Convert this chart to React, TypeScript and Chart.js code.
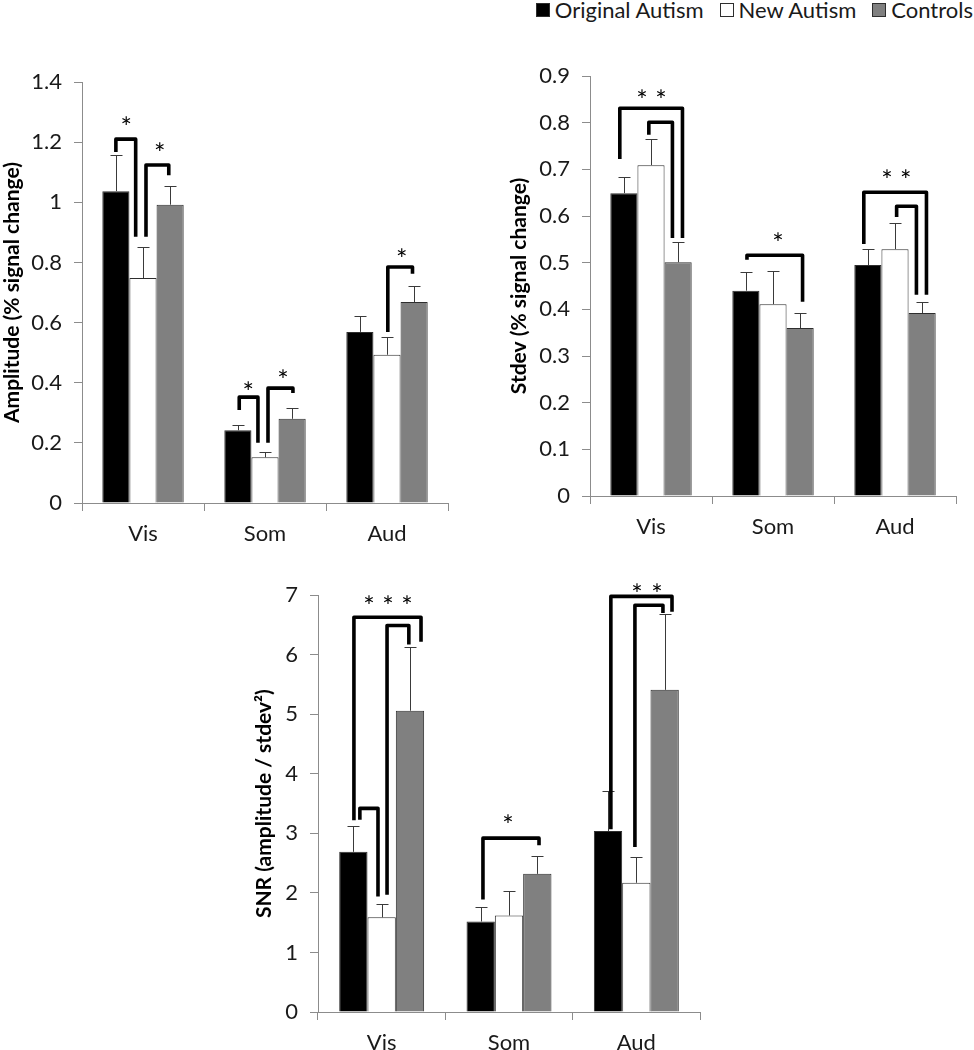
import React, { useEffect, useRef } from "react";
import { Chart, registerables } from "chart.js";

Chart.register(...registerables);

// ---------- data ----------
const CATEGORIES = ["Vis", "Som", "Aud"];
const SERIES_NAMES = ["Original Autism", "New Autism", "Controls"];

// Amplitude (% signal change)
const AMP_ORIGINAL = [1.037, 0.242, 0.569];
const AMP_NEW = [0.748, 0.152, 0.493];
const AMP_CONTROLS = [0.992, 0.28, 0.668];
const AMP_ERR_ORIGINAL = [0.12, 0.017, 0.053];
const AMP_ERR_NEW = [0.103, 0.018, 0.059];
const AMP_ERR_CONTROLS = [0.062, 0.036, 0.054];

// Stdev (% signal change)
const STD_ORIGINAL = [0.649, 0.44, 0.495];
const STD_NEW = [0.709, 0.411, 0.529];
const STD_CONTROLS = [0.501, 0.36, 0.392];
const STD_ERR_ORIGINAL = [0.035, 0.04, 0.034];
const STD_ERR_NEW = [0.056, 0.071, 0.056];
const STD_ERR_CONTROLS = [0.043, 0.032, 0.024];

// SNR (amplitude / stdev^2)
const SNR_ORIGINAL = [2.69, 1.52, 3.04];
const SNR_NEW = [1.59, 1.62, 2.17];
const SNR_CONTROLS = [5.06, 2.32, 5.41];
const SNR_ERR_ORIGINAL = [0.43, 0.24, 0.67];
const SNR_ERR_NEW = [0.23, 0.42, 0.43];
const SNR_ERR_CONTROLS = [1.07, 0.3, 1.27];

// significance brackets: [category, xStart (bar units from first bar), xEnd, yStart, yTop, yEnd]
const AMP_BRACKETS = [
  [0, 0, 0.73, 1.167, 1.21, 0.885],
  [0, 1.11, 1.95, 0.885, 1.124, 1.09],
  [1, 0.05, 0.74, 0.309, 0.352, 0.2],
  [1, 1.11, 2.03, 0.2, 0.382, 0.366],
  [2, 1.03, 1.94, 0.569, 0.785, 0.762],
];
// stars: [category, x (bar units), y]
const AMP_STARS = [
  [0, 0.38, 1.267],
  [0, 1.62, 1.18],
  [1, 0.38, 0.386],
  [1, 1.66, 0.426],
  [2, 1.54, 0.828],
];

const STD_BRACKETS = [
  [0, -0.15, 2.16, 0.722, 0.831, 0.553],
  [0, 0.92, 1.79, 0.774, 0.801, 0.553],
  [1, 0.04, 2.09, 0.506, 0.516, 0.416],
  [2, -0.15, 2.16, 0.54, 0.651, 0.431],
  [2, 1.06, 1.79, 0.598, 0.621, 0.431],
];
const STD_STARS = [
  [0, 0.67, 0.859],
  [0, 1.37, 0.859],
  [1, 1.18, 0.553],
  [2, 0.7, 0.688],
  [2, 1.4, 0.688],
];

const SNR_BRACKETS = [
  [0, 0.02, 2.39, 3.22, 6.63, 6.22],
  [0, 0.23, 0.87, 3.23, 3.42, 1.94],
  [0, 1.19, 1.96, 1.97, 6.49, 6.17],
  [1, 0.08, 2.06, 1.89, 2.92, 2.8],
  [2, 0.1, 2.26, 3.07, 6.98, 6.72],
  [2, 0.95, 1.94, 2.77, 6.83, 6.7],
];
const SNR_STARS = [
  [0, 0.55, 6.9],
  [0, 1.22, 6.9],
  [0, 1.89, 6.9],
  [1, 0.96, 3.23],
  [2, 1.02, 7.1],
  [2, 1.73, 7.1],
];

// ---------- styles ----------
const FONT = "Lato, 'Open Sans', sans-serif";
const SERIES_COLORS = ["#000000", "#ffffff", "#808080"];
const AXIS_COLOR = "#8c8c8c";
const TEXT_COLOR = "#1a1a1a";
const TICK_SIZE = 22;
const TITLE_SIZE = 21;
const STAR_SIZE = 27;

interface PanelSpec {
  values: number[][];
  errors: number[][];
  brackets: number[][];
  stars: number[][];
  yMax: number;
  yStep: number;
  title: string;
  titlePad: number;
  box: { left: number; top: number; width: number; height: number };
  area: { left: number; top: number; right: number; bottom: number };
}

const PANELS: PanelSpec[] = [
  {
    values: [AMP_ORIGINAL, AMP_NEW, AMP_CONTROLS],
    errors: [AMP_ERR_ORIGINAL, AMP_ERR_NEW, AMP_ERR_CONTROLS],
    brackets: AMP_BRACKETS,
    stars: AMP_STARS,
    yMax: 1.4,
    yStep: 0.2,
    title: "Amplitude (% signal change)",
    titlePad: 0,
    box: { left: 0, top: 50, width: 470, height: 510 },
    area: { left: 82, top: 32, right: 448, bottom: 453 },
  },
  {
    values: [STD_ORIGINAL, STD_NEW, STD_CONTROLS],
    errors: [STD_ERR_ORIGINAL, STD_ERR_NEW, STD_ERR_CONTROLS],
    brackets: STD_BRACKETS,
    stars: STD_STARS,
    yMax: 0.9,
    yStep: 0.1,
    title: "Stdev (% signal change)",
    titlePad: 7,
    box: { left: 500, top: 50, width: 474, height: 510 },
    area: { left: 90, top: 26, right: 456, bottom: 446 },
  },
  {
    values: [SNR_ORIGINAL, SNR_NEW, SNR_CONTROLS],
    errors: [SNR_ERR_ORIGINAL, SNR_ERR_NEW, SNR_ERR_CONTROLS],
    brackets: SNR_BRACKETS,
    stars: SNR_STARS,
    yMax: 7,
    yStep: 1,
    title: "SNR (amplitude / stdev\u00b2)",
    titlePad: 2,
    box: { left: 250, top: 570, width: 470, height: 480 },
    area: { left: 68, top: 20, right: 450, bottom: 442 },
  },
];

function makeAnnotPlugin(spec: PanelSpec) {
  return {
    id: "annot",
    afterDatasetsDraw(chart: any) {
      const ctx = chart.ctx;
      const ys = chart.scales.y;
      ctx.save();
      // error bars
      ctx.strokeStyle = "#3a3a3a";
      ctx.lineWidth = 1;
      spec.values.forEach((vals, i) => {
        const meta = chart.getDatasetMeta(i);
        vals.forEach((v, j) => {
          const bar = meta.data[j];
          const x = Math.round(bar.x) + 0.5;
          const yTop = Math.round(ys.getPixelForValue(v + spec.errors[i][j])) + 0.5;
          const yBase = ys.getPixelForValue(v);
          ctx.beginPath();
          ctx.moveTo(x, yBase);
          ctx.lineTo(x, yTop);
          ctx.moveTo(x - 6, yTop);
          ctx.lineTo(x + 6, yTop);
          ctx.stroke();
        });
      });
      const meta0 = chart.getDatasetMeta(0);
      const xAt = (cat: number, u: number) => {
        const b = meta0.data[cat];
        return b.x + u * b.width;
      };
      // brackets
      ctx.strokeStyle = "#000";
      ctx.lineWidth = 3.6;
      ctx.lineJoin = "round";
      ctx.lineCap = "butt";
      spec.brackets.forEach(([cat, u1, u2, yS, yT, yE]) => {
        const x1 = xAt(cat, u1);
        const x2 = xAt(cat, u2);
        ctx.beginPath();
        ctx.moveTo(x1, ys.getPixelForValue(yS));
        ctx.lineTo(x1, ys.getPixelForValue(yT));
        ctx.lineTo(x2, ys.getPixelForValue(yT));
        ctx.lineTo(x2, ys.getPixelForValue(yE));
        ctx.stroke();
      });
      // stars
      ctx.fillStyle = "#000";
      ctx.font = `${STAR_SIZE}px ${FONT}`;
      ctx.textAlign = "center";
      ctx.textBaseline = "alphabetic";
      spec.stars.forEach(([cat, u, y]) => {
        ctx.fillText("*", xAt(cat, u), ys.getPixelForValue(y) + STAR_SIZE * 0.55);
      });
      ctx.restore();
    },
  };
}

function fmt(v: number) {
  return String(parseFloat(Number(v).toFixed(2)));
}

function Panel({ spec }: { spec: PanelSpec }) {
  const ref = useRef<HTMLCanvasElement | null>(null);
  useEffect(() => {
    const canvas = ref.current;
    if (!canvas) return;
    const { box, area } = spec;
    const chart = new Chart(canvas, {
      type: "bar",
      data: {
        labels: CATEGORIES,
        datasets: spec.values.map((vals, i) => ({
          label: SERIES_NAMES[i],
          data: vals,
          backgroundColor: SERIES_COLORS[i],
          borderColor: "#2e2e2e",
          borderWidth: 1,
          categoryPercentage: 0.667,
          barPercentage: 1.0,
        })),
      },
      options: {
        responsive: false,
        animation: false,
        devicePixelRatio: 1,
        layout: {
          padding: { top: area.top, right: box.width - area.right, bottom: 0, left: 0 },
        },
        plugins: {
          legend: { display: false },
          tooltip: { enabled: false },
        },
        scales: {
          x: {
            offset: true,
            grid: {
              display: true,
              offset: true,
              drawOnChartArea: false,
              drawTicks: true,
              tickLength: 8,
              color: AXIS_COLOR,
            },
            border: { display: true, color: AXIS_COLOR, width: 1 },
            ticks: {
              font: { family: FONT, size: TICK_SIZE },
              color: TEXT_COLOR,
              padding: 10,
            },
            afterFit: (s: any) => {
              s.height = box.height - area.bottom;
            },
          },
          y: {
            min: 0,
            max: spec.yMax,
            ticks: {
              stepSize: spec.yStep,
              callback: (v: any) => fmt(v),
              font: { family: FONT, size: TICK_SIZE },
              color: TEXT_COLOR,
              padding: 12,
            },
            grid: {
              display: true,
              drawOnChartArea: false,
              drawTicks: true,
              tickLength: 8,
              color: AXIS_COLOR,
            },
            border: { display: true, color: AXIS_COLOR, width: 1 },
            title: {
              display: true,
              text: spec.title,
              font: { family: FONT, size: TITLE_SIZE, weight: "bold" },
              color: "#000",
              padding: { top: spec.titlePad, bottom: 0 },
            },
            afterFit: (s: any) => {
              s.width = area.left;
            },
          },
        },
      },
      plugins: [makeAnnotPlugin(spec)],
    } as any);
    return () => chart.destroy();
  }, [spec]);
  return (
    <canvas
      ref={ref}
      width={spec.box.width}
      height={spec.box.height}
      style={{
        position: "absolute",
        left: spec.box.left,
        top: spec.box.top,
        width: spec.box.width,
        height: spec.box.height,
      }}
    />
  );
}

function Legend() {
  return (
    <div
      style={{
        position: "absolute",
        right: 1,
        top: -2,
        display: "flex",
        alignItems: "center",
        fontFamily: FONT,
        fontSize: 22,
        lineHeight: "24px",
        color: TEXT_COLOR,
        whiteSpace: "nowrap",
      }}
    >
      {SERIES_NAMES.map((name, i) => (
        <div key={name} style={{ display: "flex", alignItems: "center", marginLeft: i === 0 ? 0 : 16 }}>
          <span
            style={{
              display: "inline-block",
              width: 12,
              height: 12,
              background: SERIES_COLORS[i],
              border: "1px solid #2e2e2e",
              marginRight: 5,
            }}
          />
          <span>{name}</span>
        </div>
      ))}
    </div>
  );
}

export default function App() {
  return (
    <div
      style={{
        position: "absolute",
        left: 0,
        top: 0,
        width: 974,
        height: 1050,
        background: "#fff",
        overflow: "hidden",
      }}
    >
      <Legend />
      {PANELS.map((p, i) => (
        <Panel key={i} spec={p} />
      ))}
    </div>
  );
}
